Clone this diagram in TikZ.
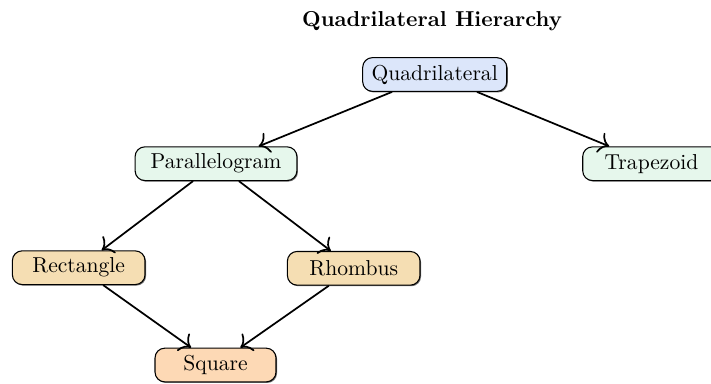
\documentclass[tikz,border=0pt]{standalone}
\usetikzlibrary{shadows,arrows.meta}
\definecolor{cQuad}{HTML}{DCE6FA}
\definecolor{cGreen}{HTML}{E6F7EC}
\definecolor{cWheat}{HTML}{F5DEB3}
\definecolor{cPeach}{HTML}{FDD9B5}
\tikzset{
  box/.style={draw=black, line width=0.5pt, rounded corners=4.5pt, minimum height=15.6pt,
    inner sep=3pt, drop shadow={shadow xshift=0.5pt, shadow yshift=-0.5pt, fill=black!70, opacity=0.8}},
  link/.style={-{To[scale=1.4]}, thick},
  titlestyle/.style={font=\bfseries, anchor=base}
}
\begin{document}
\begin{tikzpicture}[x=0.463pt, y=-0.463pt]
\useasboundingbox (0,0) rectangle (711,383);
\node[titlestyle] (title) at (432,26) {Quadrilateral Hierarchy};
\node[box, fill=cQuad, minimum width=66.7pt] (quad) at (434.7,74.5) {Quadrilateral};
\node[box, fill=cGreen, minimum width=74.9pt] (para) at (216,163.7) {Parallelogram};
\node[box, fill=cGreen, minimum width=63.7pt] (trap) at (651.5,163.7) {Trapezoid};
\node[box, fill=cWheat, minimum width=61.4pt] (rect) at (78.7,267.7) {Rectangle};
\node[box, fill=cWheat, minimum width=61.4pt] (rhom) at (353.7,268.3) {Rhombus};
\node[box, fill=cPeach, minimum width=56pt] (sq) at (215.5,365) {Square};
\draw[link] (quad) -- (para);
\draw[link] (quad) -- (trap);
\draw[link] (para) -- (rect);
\draw[link] (para) -- (rhom);
\draw[link] (rect) -- (sq);
\draw[link] (rhom) -- (sq);
\end{tikzpicture}
\end{document}
